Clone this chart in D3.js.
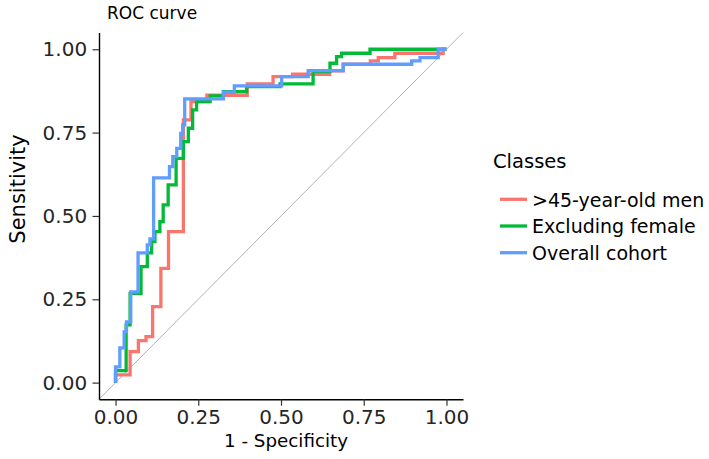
<!DOCTYPE html>
<html>
<head>
<meta charset="utf-8">
<script src="https://cdn.jsdelivr.net/npm/d3@7"></script>
<style>
  html, body { margin: 0; padding: 0; background: #ffffff; }
  svg { display: block; font-family: "DejaVu Sans", sans-serif; }
</style>
</head>
<body>
<svg id="chart" width="709" height="459"></svg>
<script>
// ---- Data (ROC vertices) ----
const classes = [">45-year-old men", "Excluding female", "Overall cohort"];
const classColors = ["#F8766D", "#00BA38", "#619CFF"];
const tickValues = [0, 0.25, 0.5, 0.75, 1];

const menFpr = [0, 0, 0.044, 0.044, 0.069, 0.069, 0.092, 0.092, 0.112, 0.112, 0.137, 0.137, 0.160, 0.160,
  0.205, 0.205, 0.228, 0.228, 0.276, 0.276, 0.398, 0.398, 0.476, 0.476, 0.535, 0.535, 0.647, 0.647,
  0.688, 0.688, 0.770, 0.770, 0.794, 0.794, 0.844, 0.844, 0.990, 0.990, 1];
const menTpr = [0, 0.023, 0.023, 0.093, 0.093, 0.126, 0.126, 0.138, 0.138, 0.228, 0.228, 0.343, 0.343, 0.453,
  0.453, 0.788, 0.788, 0.843, 0.843, 0.862, 0.862, 0.896, 0.896, 0.918, 0.918, 0.925, 0.925, 0.935,
  0.935, 0.955, 0.955, 0.965, 0.965, 0.975, 0.975, 0.988, 0.988, 1, 1];

const exclFpr = [0, 0, 0.032, 0.032, 0.044, 0.044, 0.077, 0.077, 0.096, 0.096, 0.109, 0.109, 0.119, 0.119,
  0.134, 0.134, 0.144, 0.144, 0.159, 0.159, 0.183, 0.183, 0.205, 0.205, 0.220, 0.220, 0.233, 0.233,
  0.245, 0.245, 0.286, 0.286, 0.326, 0.326, 0.396, 0.396, 0.497, 0.497, 0.597, 0.597, 0.648, 0.648,
  0.668, 0.668, 0.683, 0.683, 0.769, 0.769, 1];
const exclTpr = [0, 0.036, 0.036, 0.173, 0.173, 0.268, 0.268, 0.348, 0.348, 0.389, 0.389, 0.423, 0.423, 0.453,
  0.453, 0.483, 0.483, 0.533, 0.533, 0.593, 0.593, 0.673, 0.673, 0.723, 0.723, 0.763, 0.763, 0.818,
  0.818, 0.843, 0.843, 0.860, 0.860, 0.873, 0.873, 0.888, 0.888, 0.896, 0.896, 0.933, 0.933, 0.958,
  0.958, 0.978, 0.978, 0.988, 0.988, 1, 1];

const overallFpr = [0, 0, 0.013, 0.013, 0.026, 0.026, 0.033, 0.033, 0.046, 0.046, 0.068, 0.068, 0.096, 0.096,
  0.104, 0.104, 0.115, 0.115, 0.163, 0.163, 0.173, 0.173, 0.185, 0.185, 0.197, 0.197, 0.203, 0.203,
  0.209, 0.209, 0.326, 0.326, 0.359, 0.359, 0.502, 0.502, 0.582, 0.582, 0.688, 0.688, 0.895, 0.895,
  0.920, 0.920, 0.975, 0.975, 1];
const overallTpr = [0, 0.047, 0.047, 0.104, 0.104, 0.152, 0.152, 0.182, 0.182, 0.272, 0.272, 0.389, 0.389, 0.413,
  0.413, 0.431, 0.431, 0.614, 0.614, 0.648, 0.648, 0.678, 0.678, 0.703, 0.703, 0.748, 0.748, 0.773,
  0.773, 0.851, 0.851, 0.871, 0.871, 0.890, 0.890, 0.918, 0.918, 0.936, 0.936, 0.955, 0.955, 0.965,
  0.965, 0.975, 0.975, 1, 1];

const seriesFpr = [menFpr, exclFpr, overallFpr];
const seriesTpr = [menTpr, exclTpr, overallTpr];

// ---- Layout ----
const svg = d3.select("#chart");
const panel = { left: 99, right: 463, top: 32.6, bottom: 399.3 };

const x = d3.scaleLinear().domain([-0.05, 1.05]).range([panel.left, panel.right]);
const y = d3.scaleLinear().domain([-0.05, 1.05]).range([panel.bottom, panel.top]);

// Reference diagonal
svg.append("line")
  .attr("x1", x(-0.05)).attr("y1", y(-0.05))
  .attr("x2", x(1.05)).attr("y2", y(1.05))
  .attr("stroke", "#b3b3b3").attr("stroke-width", 1);

// ROC lines
const line = d3.line().x(d => x(d[0])).y(d => y(d[1]));
classes.forEach((c, i) => {
  const pts = seriesFpr[i].map((f, j) => [f, seriesTpr[i][j]]);
  svg.append("path")
    .datum(pts)
    .attr("d", line)
    .attr("fill", "none")
    .attr("stroke", classColors[i])
    .attr("stroke-width", 3.3)
    .attr("stroke-linejoin", "miter")
    .attr("stroke-linecap", "butt");
});

// Axes
const fmt = d3.format(".2f");
const yAxis = svg.append("g")
  .attr("transform", `translate(${panel.left},0)`)
  .call(d3.axisLeft(y).tickValues(tickValues).tickFormat(fmt).tickSize(6.5).tickPadding(5.4).tickSizeOuter(0));
const xAxis = svg.append("g")
  .attr("transform", `translate(0,${panel.bottom})`)
  .call(d3.axisBottom(x).tickValues(tickValues).tickFormat(fmt).tickSize(6.5).tickPadding(4.5).tickSizeOuter(0));

[xAxis, yAxis].forEach(g => {
  g.select(".domain").attr("stroke", "#000").attr("stroke-width", 1.4);
  g.selectAll(".tick line").attr("stroke", "#333").attr("stroke-width", 1.2);
  g.selectAll(".tick text").attr("fill", "#262626").style("font-size", "20px")
    .style("font-family", "'DejaVu Sans', sans-serif");
});

// Axis titles
svg.append("text")
  .attr("x", 286).attr("y", 447)
  .attr("text-anchor", "middle")
  .style("font-size", "18.3px").attr("fill", "#000")
  .text("1 - Specificity");

svg.append("text")
  .attr("transform", "translate(25,189) rotate(-90)")
  .attr("text-anchor", "middle")
  .style("font-size", "21px").attr("fill", "#000")
  .text("Sensitivity");

// Title
svg.append("text")
  .attr("x", 107).attr("y", 19)
  .style("font-size", "17px").attr("fill", "#000")
  .text("ROC curve");

// Legend
svg.append("text")
  .attr("x", 493).attr("y", 168)
  .style("font-size", "19.5px").attr("fill", "#000")
  .text("Classes");

const legendY = [199.3, 226, 252.7];
classes.forEach((c, i) => {
  svg.append("line")
    .attr("x1", 500).attr("x2", 527)
    .attr("y1", legendY[i]).attr("y2", legendY[i])
    .attr("stroke", classColors[i]).attr("stroke-width", 3.3);
  svg.append("text")
    .attr("x", 532).attr("y", legendY[i] + 7.3)
    .style("font-size", "19px").attr("fill", "#000")
    .text(c);
});
</script>
</body>
</html>
